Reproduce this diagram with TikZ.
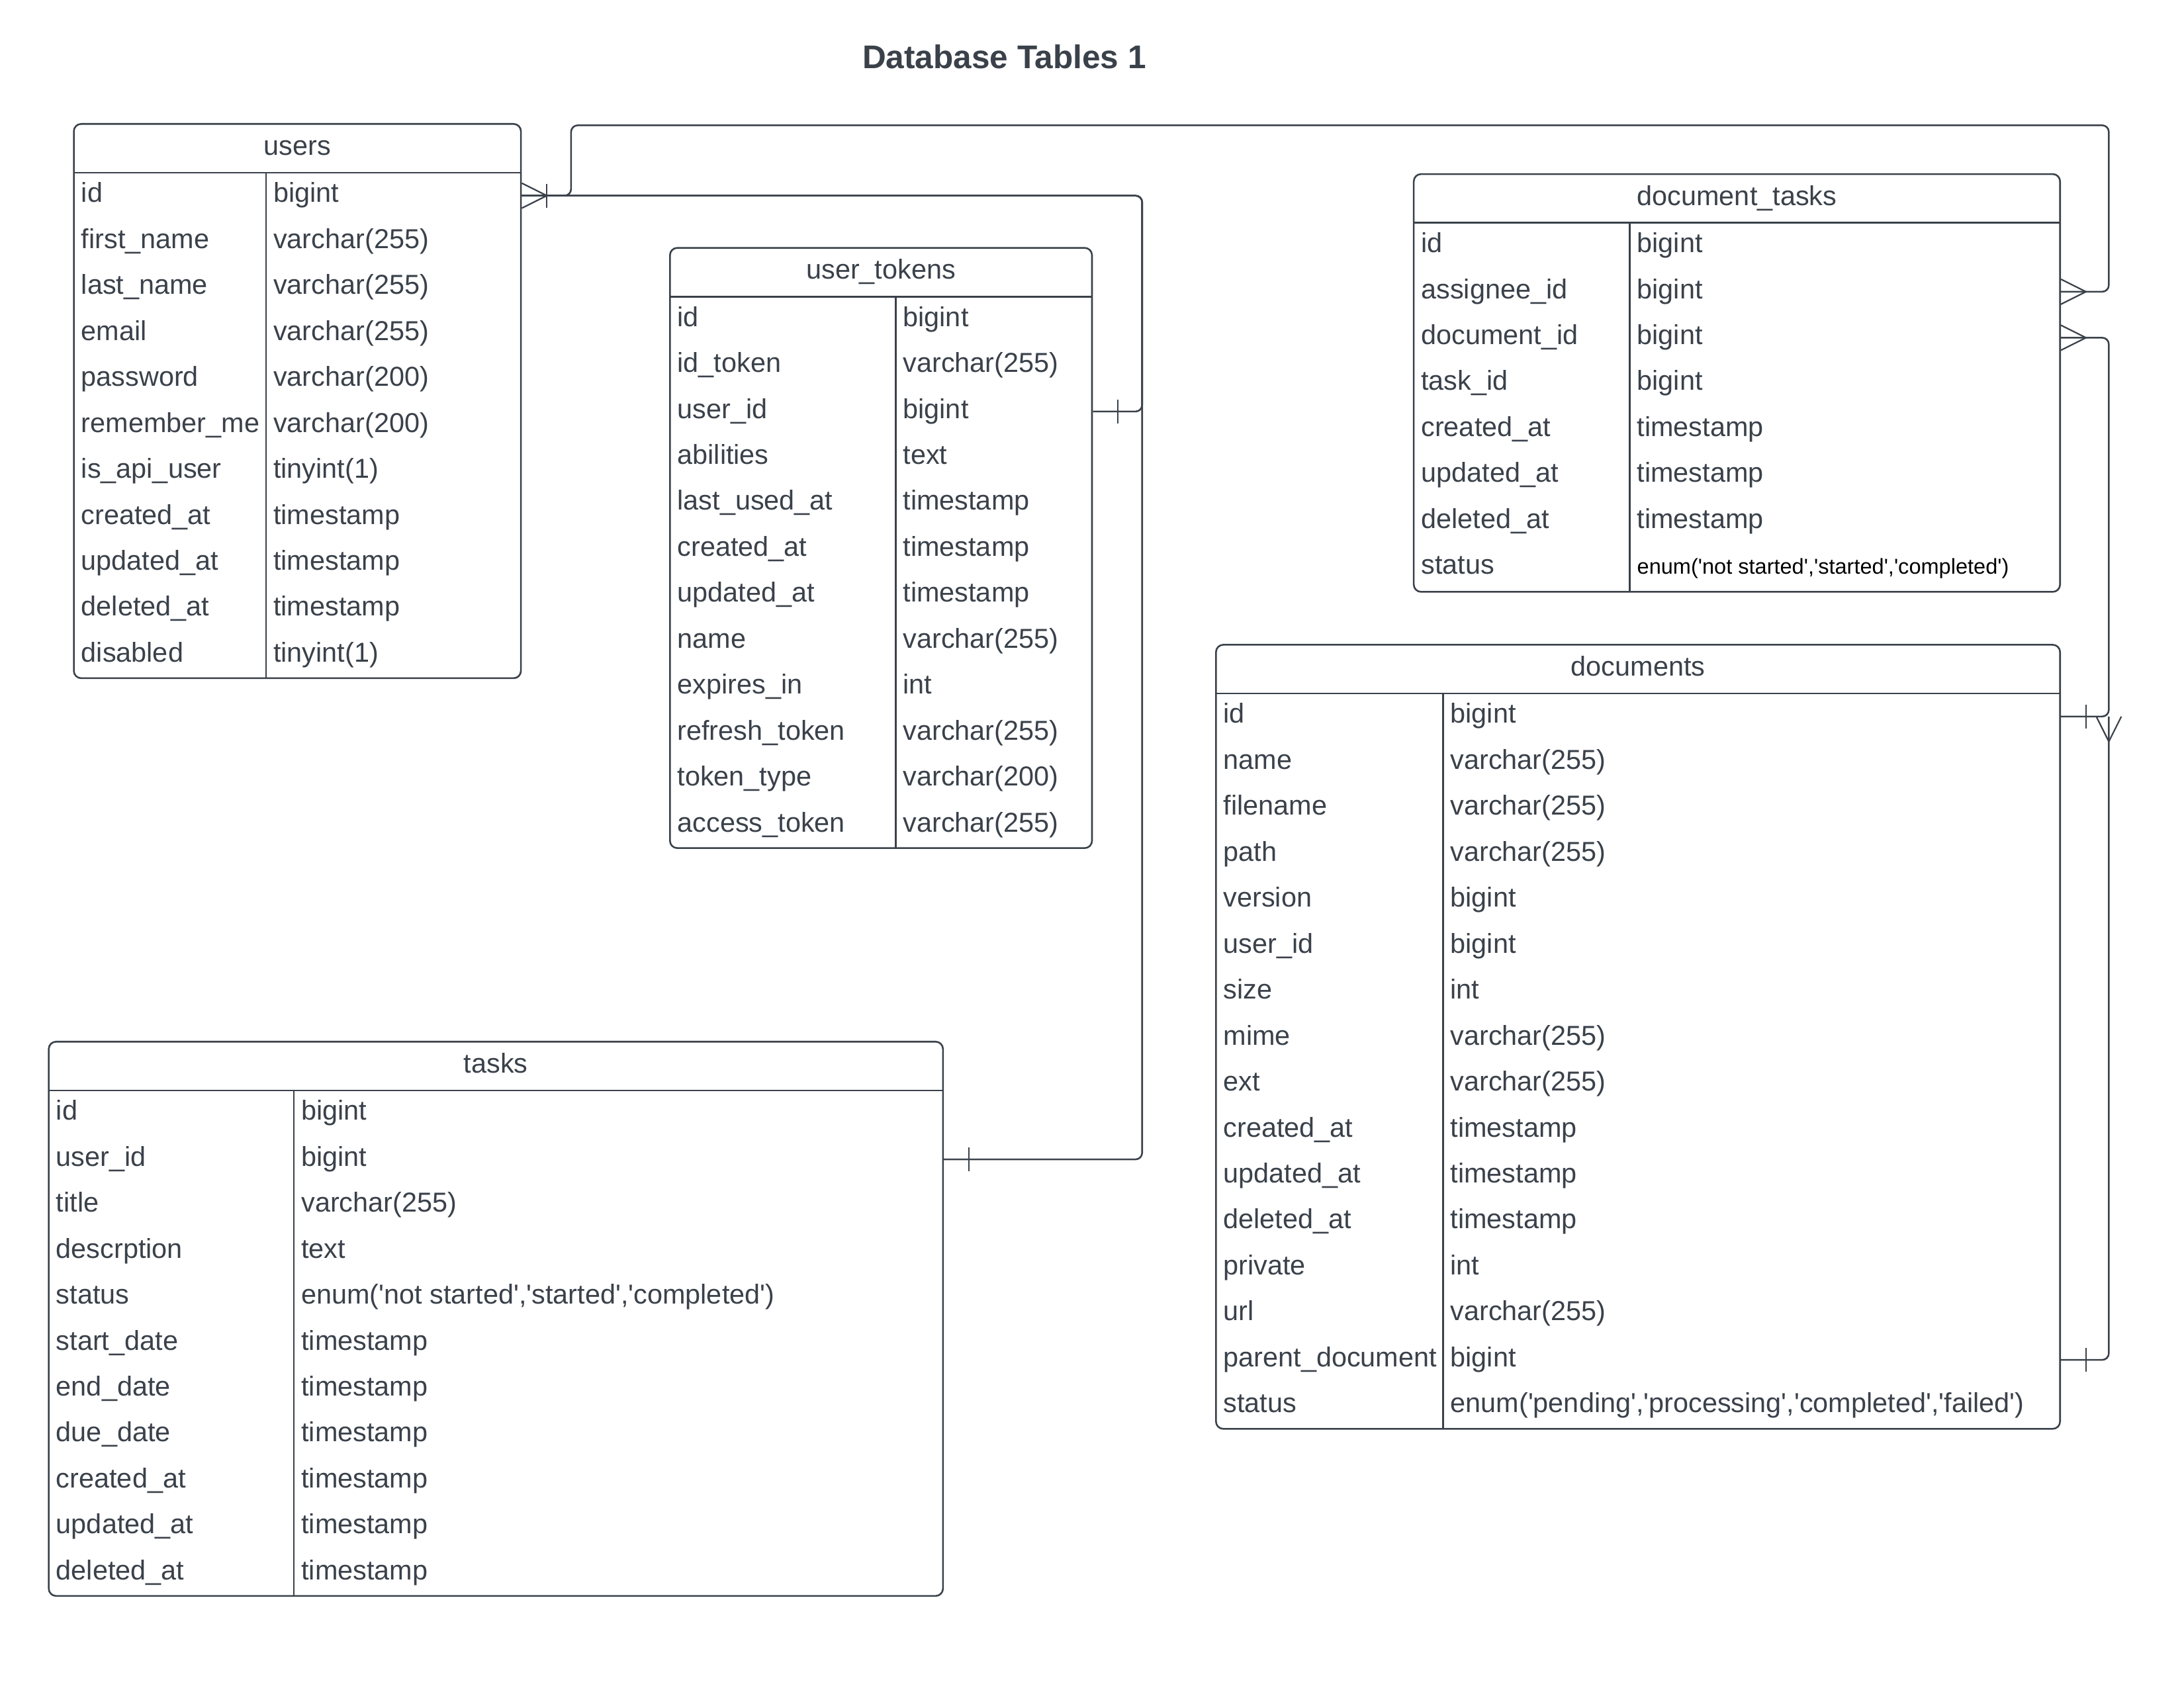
\documentclass[tikz,border=0pt]{standalone}
\usepackage{fontspec}
\setmainfont{Liberation Sans}[Ligatures=TeXOff]
\usepackage{tikz}
\usetikzlibrary{fit}
\definecolor{ink}{HTML}{3A414A}

\begin{document}
\begin{tikzpicture}[x=0.02cm, y=-0.02cm]
	\tikzstyle{Table}	= [draw=ink, line width=0.7pt, rounded corners=3pt, inner sep=0pt]
	\tikzstyle{Head}	= [text=ink, font=\fontsize{11.2}{13}\selectfont, inner sep=0pt, text height=5.5pt, text depth=0pt]
	\tikzstyle{Field}	= [Head, anchor=west]
	\tikzstyle{Rule}	= [ink, line width=0.7pt]
	\tikzstyle{Link}	= [ink, line width=0.7pt, rounded corners=2.7pt]
	\tikzstyle{Foot}	= [ink, line width=0.6pt]

	\useasboundingbox (0,0) rectangle (1568,1212);
	\node (title) at (721,41) [text=ink, font=\bfseries\fontsize{13.4}{16}\selectfont] {Database Tables 1};

	% users
	\node (users) [Table, fit={(53,89) (374,487)}] {};
	\node (users-h) at (213.5,106.5) [Head] {users};
	\draw [Rule] (53,124) -- (374,124);
	\draw [Rule] (191,124) -- (191,487);
	\foreach \f/\t [count=\i] in {id/bigint, first\_name/varchar(255), last\_name/varchar(255), email/varchar(255), password/varchar(200), remember\_me/varchar(200), is\_api\_user/tinyint(1), created\_at/timestamp, updated\_at/timestamp, deleted\_at/timestamp, disabled/tinyint(1)} {
		\node (users-f\i) at (58,107.5+33*\i) [Field] {\f};
		\node (users-t\i) at (196,107.5+33*\i) [Field] {\t};
	}

	% user_tokens
	\node (tokens) [Table, fit={(481,178) (784,609)}] {};
	\node (tokens-h) at (632.5,195.5) [Head] {user\_tokens};
	\draw [Rule] (481,213) -- (784,213);
	\draw [Rule] (643,213) -- (643,609);
	\foreach \f/\t [count=\i] in {id/bigint, id\_token/varchar(255), user\_id/bigint, abilities/text, last\_used\_at/timestamp, created\_at/timestamp, updated\_at/timestamp, name/varchar(255), expires\_in/int, refresh\_token/varchar(255), token\_type/varchar(200), access\_token/varchar(255)} {
		\node (tokens-f\i) at (486,196.5+33*\i) [Field] {\f};
		\node (tokens-t\i) at (648,196.5+33*\i) [Field] {\t};
	}

	% document_tasks
	\node (dtasks) [Table, fit={(1015,125) (1479,425)}] {};
	\node (dtasks-h) at (1247,142.5) [Head] {document\_tasks};
	\draw [Rule] (1015,160) -- (1479,160);
	\draw [Rule] (1170,160) -- (1170,425);
	\foreach \f/\t [count=\i] in {id/bigint, assignee\_id/bigint, document\_id/bigint, task\_id/bigint, created\_at/timestamp, updated\_at/timestamp, deleted\_at/timestamp} {
		\node (dtasks-f\i) at (1020,143.5+33*\i) [Field] {\f};
		\node (dtasks-t\i) at (1175,143.5+33*\i) [Field] {\t};
	}
	\node (dtasks-f8) at (1020,407.5) [Field] {status};
	\node (dtasks-t8) at (1175,407.5) [Field, text=black, font=\fontsize{8.8}{10}\selectfont] {enum('not started','started','completed')};

	% documents
	\node (docs) [Table, fit={(873,463) (1479,1026)}] {};
	\node (docs-h) at (1176,480.5) [Head] {documents};
	\draw [Rule] (873,498) -- (1479,498);
	\draw [Rule] (1036,498) -- (1036,1026);
	\foreach \f/\t [count=\i] in {id/bigint, name/varchar(255), filename/varchar(255), path/varchar(255), version/bigint, user\_id/bigint, size/int, mime/varchar(255), ext/varchar(255), created\_at/timestamp, updated\_at/timestamp, deleted\_at/timestamp, private/int, url/varchar(255), parent\_document/bigint, status/{enum('pending','processing','completed','failed')}} {
		\node (docs-f\i) at (878,481.5+33*\i) [Field] {\f};
		\node (docs-t\i) at (1041,481.5+33*\i) [Field] {\t};
	}

	% tasks
	\node (tasks) [Table, fit={(35,748) (677,1146)}] {};
	\node (tasks-h) at (356,765.5) [Head] {tasks};
	\draw [Rule] (35,783) -- (677,783);
	\draw [Rule] (211,783) -- (211,1146);
	\foreach \f/\t [count=\i] in {id/bigint, user\_id/bigint, title/varchar(255), descrption/text, status/{enum('not started','started','completed')}, start\_date/timestamp, end\_date/timestamp, due\_date/timestamp, created\_at/timestamp, updated\_at/timestamp, deleted\_at/timestamp} {
		\node (tasks-f\i) at (40,766.5+33*\i) [Field] {\f};
		\node (tasks-t\i) at (216,766.5+33*\i) [Field] {\t};
	}

	% relations
	\coordinate (c-tok) at (820,295.5);
	\coordinate (c-task) at (820,832.5);
	\coordinate (c-up) at (410,140.5);
	\coordinate (c-top) at (1514,90);
	\coordinate (c-doc) at (1514,514.5);

	\draw [Link] (users.east |- users-t1) -| (c-tok) -- (tokens.east |- tokens-t3);
	\draw [Link] (users.east |- users-t1) -| (c-task) -- (tasks.east |- tasks-t2);
	\draw [Link] (users.east |- users-t1) -- (c-up) |- (c-top) |- (dtasks.east |- dtasks-t2);
	\draw [Link] (dtasks.east |- dtasks-t3) -| (c-doc) -- (docs.east |- docs-t1);
	\draw [Link] (docs.east |- docs-t15) -| (c-doc);

	% ends
	\draw [Foot] (users.east |- users-t1) ++(0,-9) -- ++(18,9) -- ++(-18,9);
	\draw [Foot] (users.east |- users-t1) ++(18,-8.5) -- ++(0,17);
	\draw [Foot] (tokens.east |- tokens-t3) ++(18,-8.5) -- ++(0,17);
	\draw [Foot] (tasks.east |- tasks-t2) ++(18,-8.5) -- ++(0,17);
	\draw [Foot] (dtasks.east |- dtasks-t2) ++(0,-9) -- ++(18,9) -- ++(-18,9);
	\draw [Foot] (dtasks.east |- dtasks-t3) ++(0,-9) -- ++(18,9) -- ++(-18,9);
	\draw [Foot] (docs.east |- docs-t1) ++(18,-8.5) -- ++(0,17);
	\draw [Foot] (docs.east |- docs-t15) ++(18,-8.5) -- ++(0,17);
	\draw [Foot] (c-doc) ++(-9,0) -- ++(9,18) -- ++(9,-18);
\end{tikzpicture}
\end{document}
